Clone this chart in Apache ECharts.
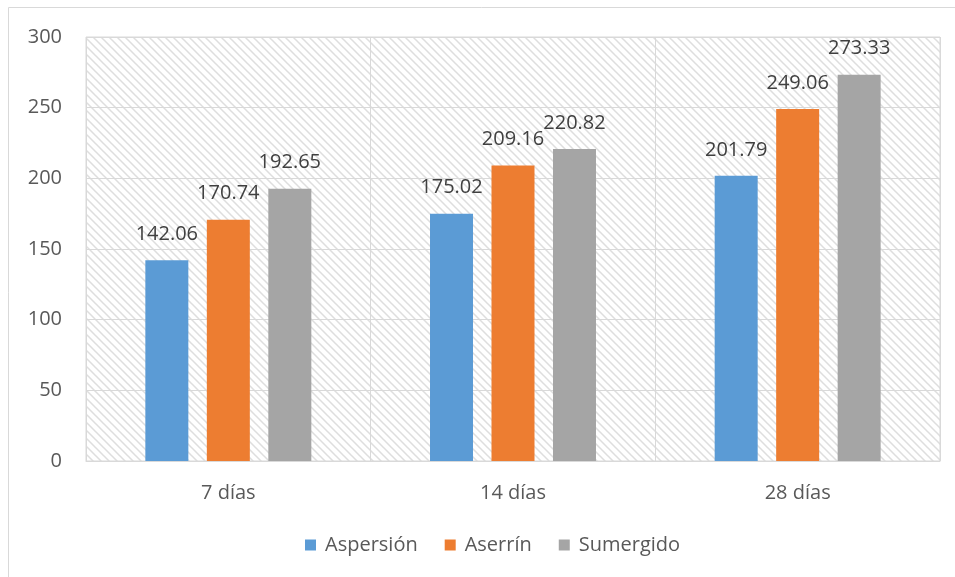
<!DOCTYPE html>
<html>
<head>
<meta charset="utf-8">
<script src="https://cdn.jsdelivr.net/npm/echarts@6/dist/echarts.min.js"></script>
<style>
  html, body { margin: 0; padding: 0; background: #fff; }
  #chart { width: 955px; height: 577px; }
</style>
</head>
<body>
<div id="chart"></div>
<script>
// Curing age groups and strength results per curing method
const categories = ['7 días', '14 días', '28 días'];
const aspersion = [142.06, 175.02, 201.79];
const aserrin = [170.74, 209.16, 249.06];
const sumergido = [192.65, 220.82, 273.33];
const seriesNames = ['Aspersión', 'Aserrín', 'Sumergido'];
const yTicks = { min: 0, max: 300, interval: 50 };

// Diagonal hatch tile for the plot background
function hatchTile() {
  const c = document.createElement('canvas');
  c.width = 8; c.height = 8;
  const g = c.getContext('2d');
  g.fillStyle = '#ffffff';
  g.fillRect(0, 0, 8, 8);
  g.strokeStyle = '#dedede';
  g.lineWidth = 1.5;
  g.beginPath();
  g.moveTo(-2, -2); g.lineTo(10, 10);
  g.moveTo(-10, -2); g.lineTo(2, 10);
  g.moveTo(6, -2); g.lineTo(18, 10);
  g.stroke();
  return c;
}

const FONT = '"Open Sans", "Liberation Sans", sans-serif';
const chart = echarts.init(document.getElementById('chart'));

const labelCfg = {
  show: true,
  position: 'top',
  distance: 16,
  color: '#404040',
  fontSize: 20,
  fontFamily: FONT,
  formatter: p => p.value.toFixed(2)
};

chart.setOption({
  animation: false,
  textStyle: { fontFamily: FONT },
  grid: {
    left: 86, right: 15, top: 37, bottom: 116,
    show: true,
    borderColor: '#d9d9d9',
    borderWidth: 1,
    backgroundColor: { image: hatchTile(), repeat: 'repeat' }
  },
  graphic: [
    { type: 'line', silent: true, shape: { x1: 8.5, y1: 7.5, x2: 955, y2: 7.5 }, style: { stroke: '#d9d9d9', lineWidth: 1 } },
    { type: 'line', silent: true, shape: { x1: 8.5, y1: 7.5, x2: 8.5, y2: 577 }, style: { stroke: '#d9d9d9', lineWidth: 1 } }
  ],
  legend: {
    data: seriesNames,
    bottom: 17,
    left: 300,
    itemWidth: 11,
    itemHeight: 11,
    itemGap: 27,
    icon: 'rect',
    textStyle: { color: '#595959', fontSize: 20, fontFamily: FONT, padding: [0, 0, 0, 4] }
  },
  xAxis: {
    type: 'category',
    data: categories,
    axisLine: { lineStyle: { color: '#d9d9d9' } },
    axisTick: { show: false },
    splitLine: { show: true, lineStyle: { color: '#d9d9d9' } },
    axisLabel: { color: '#595959', fontSize: 20, margin: 22, fontFamily: FONT }
  },
  yAxis: {
    type: 'value',
    min: yTicks.min,
    max: yTicks.max,
    interval: yTicks.interval,
    axisLine: { show: false },
    axisTick: { show: false },
    splitLine: { lineStyle: { color: '#d9d9d9' } },
    axisLabel: { color: '#595959', fontSize: 20, margin: 24, fontFamily: FONT }
  },
  series: [
    { name: seriesNames[0], type: 'bar', data: aspersion, barWidth: 43, barGap: '43%', itemStyle: { color: '#5b9bd5' }, label: labelCfg },
    { name: seriesNames[1], type: 'bar', data: aserrin, barWidth: 43, barGap: '43%', itemStyle: { color: '#ed7d31' }, label: labelCfg },
    { name: seriesNames[2], type: 'bar', data: sumergido, barWidth: 43, barGap: '43%', itemStyle: { color: '#a5a5a5' }, label: labelCfg }
  ]
});
</script>
</body>
</html>
